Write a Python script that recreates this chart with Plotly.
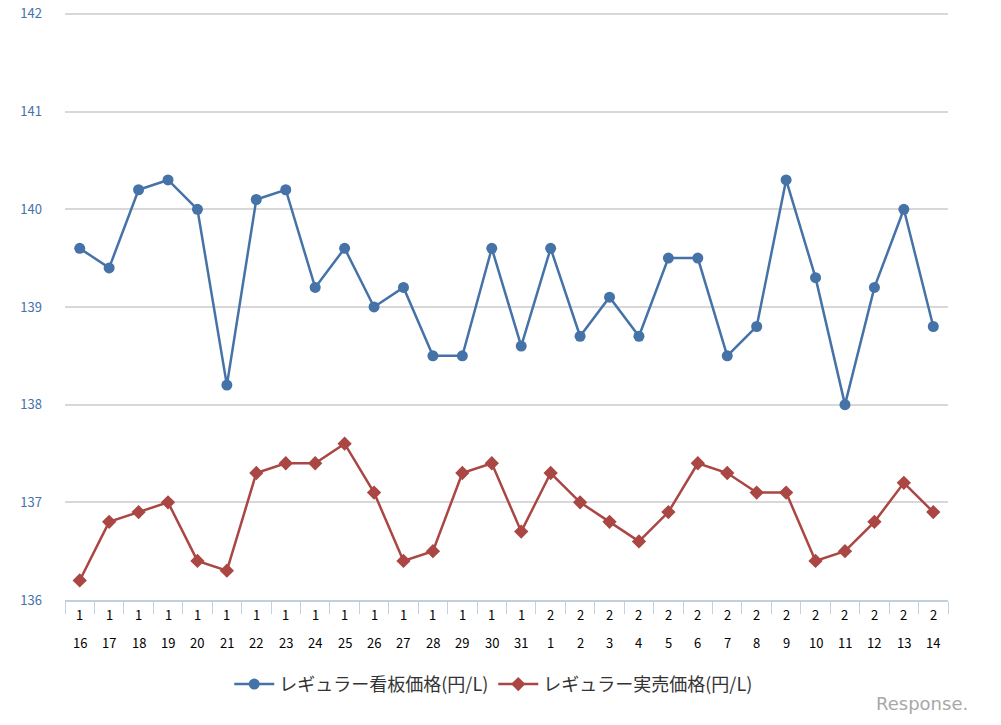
import plotly.graph_objects as go

months = [1]*16 + [2]*14
days = list(range(16, 32)) + list(range(1, 15))
categories = [f"{m}/{d}" for m, d in zip(months, days)]

regular_sign = [139.6, 139.4, 140.2, 140.3, 140.0, 138.2, 140.1, 140.2, 139.2, 139.6,
                139.0, 139.2, 138.5, 138.5, 139.6, 138.6, 139.6, 138.7, 139.1, 138.7,
                139.5, 139.5, 138.5, 138.8, 140.3, 139.3, 138.0, 139.2, 140.0, 138.8]
regular_actual = [136.2, 136.8, 136.9, 137.0, 136.4, 136.3, 137.3, 137.4, 137.4, 137.6,
                  137.1, 136.4, 136.5, 137.3, 137.4, 136.7, 137.3, 137.0, 136.8, 136.6,
                  136.9, 137.4, 137.3, 137.1, 137.1, 136.4, 136.5, 136.8, 137.2, 136.9]
y_ticks = [136, 137, 138, 139, 140, 141, 142]

font_family = "Noto Sans CJK JP, Noto Sans, sans-serif"

fig = go.Figure()
fig.add_trace(go.Scatter(
    x=categories, y=regular_sign, mode="lines+markers",
    name="レギュラー看板価格(円/L)",
    line=dict(color="#4572A7", width=2.5),
    marker=dict(symbol="circle", size=11, color="#4572A7"),
))
fig.add_trace(go.Scatter(
    x=categories, y=regular_actual, mode="lines+markers",
    name="レギュラー実売価格(円/L)",
    line=dict(color="#AA4643", width=2.5),
    marker=dict(symbol="diamond", size=11, color="#AA4643"),
))

fig.update_layout(
    width=1001, height=725,
    margin=dict(l=65, r=53, t=10, b=125, autoexpand=False),
    paper_bgcolor="white", plot_bgcolor="white",
    font=dict(family=font_family),
    showlegend=True,
    legend=dict(orientation="h", x=0.485, xanchor="center", y=-0.143, yanchor="middle",
                yref="paper", font=dict(size=18, color="#333333"),
                itemwidth=40, tracegroupgap=0),
    xaxis=dict(
        type="category", showgrid=False, showline=True, linecolor="#C0D0E0", linewidth=2,
        ticks="outside", tickson="boundaries", ticklen=12, tickcolor="#C0D0E0", tickwidth=1,
        showticklabels=False, automargin=False,
        range=[-0.5, len(categories) - 0.5], fixedrange=True,
    ),
    yaxis=dict(
        range=[136, 142.04], tickvals=y_ticks, showgrid=True, gridcolor="#D8D8D8", gridwidth=2,
        zeroline=False, showline=False, ticks="", ticklabelstandoff=22, automargin=False,
        tickfont=dict(size=13, color="#4572A7"),
    ),
)

# two-line category labels (month above, day below), placed on the category scale
for c, m, d in zip(categories, months, days):
    fig.add_annotation(
        x=c, xref="x", y=-0.0254, yref="paper", text=str(m), showarrow=False,
        xanchor="center", yanchor="middle", font=dict(size=13, color="#000000"),
    )
    fig.add_annotation(
        x=c, xref="x", y=-0.0712, yref="paper", text=str(d), showarrow=False,
        xanchor="center", yanchor="middle", font=dict(size=13, color="#000000"),
    )

fig.add_annotation(
    text="Response.", xref="paper", yref="paper", x=1.025, y=-0.175,
    xanchor="right", yanchor="middle", showarrow=False,
    font=dict(size=18, color="#A8A8A8", family="DejaVu Sans"),
)

fig.write_html("out.html")
